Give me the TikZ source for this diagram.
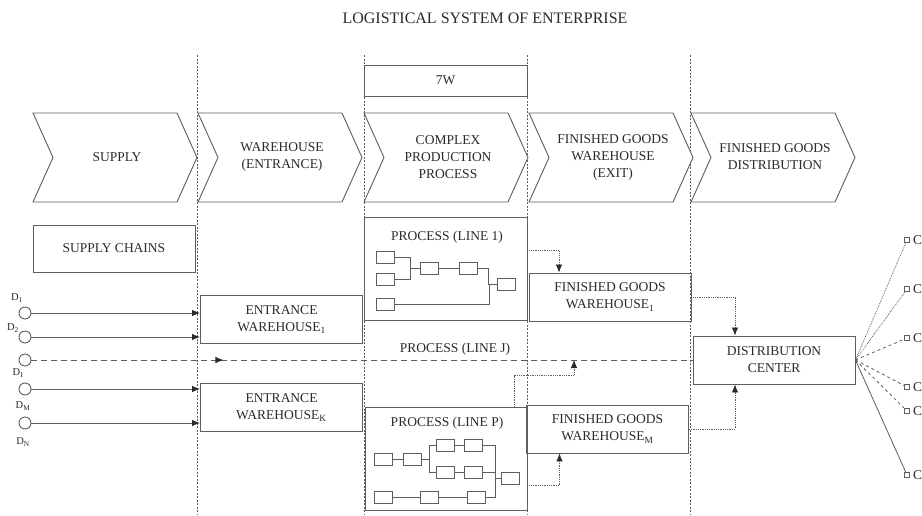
\documentclass[tikz,border=0pt]{standalone}
\usepackage{fontspec}
\setmainfont{Liberation Serif}
\usepackage{tikz}
\usetikzlibrary{arrows.meta,calc,decorations.markings}
\definecolor{linegray}{HTML}{5E5E5E}
\definecolor{inkgray}{HTML}{2A2A2A}

\begin{document}
\begin{tikzpicture}[x=1pt, y=-1pt,
    txt/.style={font=\fontsize{13.5}{17}\selectfont, text=inkgray, align=center},
    box/.style={draw=linegray, line width=0.9pt, inner sep=0pt, txt},
    whbox/.style={box, minimum width=162pt, minimum height=48pt},
    blk/.style={draw=linegray, line width=0.8pt, minimum width=18pt, minimum height=12pt, inner sep=0pt},
    wire/.style={draw=linegray, line width=0.8pt},
    src/.style={circle, draw=linegray, line width=0.9pt, minimum size=12pt, inner sep=0pt},
    tip/.style={-{Latex[length=8pt,width=6.5pt,color=inkgray]}},
    feed/.style={draw=linegray, line width=0.9pt, tip},
    link/.style={draw=linegray, line width=0.8pt, densely dotted, tip},
    sep/.style={draw=linegray, line width=0.7pt, dash pattern=on 2pt off 1.5pt},
    dlab/.style={font=\fontsize{10.5}{12}\selectfont, text=inkgray, inner sep=0pt},
    cnode/.style={draw=linegray, line width=0.7pt, minimum size=5pt, inner sep=0pt}]
    \useasboundingbox (0,0) rectangle (922,515);

    % Title
    \node[font=\fontsize{16}{19}\selectfont, text=inkgray] (title) at (485,18) {LOGISTICAL SYSTEM OF ENTERPRISE};

    % Stage borders
    \foreach \x in {197, 364, 527, 690} {
        \draw[sep] (\x,55) -- (\x,515);
    }

    % Chevrons
    \foreach \name/\x/\txt in {sup/33/SUPPLY, whe/198/{WAREHOUSE\\(ENTRANCE)}, cpp/364/{COMPLEX\\PRODUCTION\\PROCESS}, fgw/529/{FINISHED GOODS\\WAREHOUSE\\(EXIT)}, fgd/691/{FINISHED GOODS\\DISTRIBUTION}} {
        \draw[linegray, line width=0.9pt, fill=white] (\x,113) -- ++(144,0) -- ++(20,44.5) -- ++(-20,44.5) -- ++(-144,0) -- ++(20,-44.5) -- cycle;
        \node[txt] (\name) at (\x+84,157) {\txt};
    }

    \node[box, fill=white, minimum width=163pt, minimum height=31pt] (sevenw) at (445.5,80.5) {7W};
    \node[box, minimum width=162pt, minimum height=47pt] (chains) at (114,248.5) {SUPPLY CHAINS};

    % Warehouses
    \node[whbox] (ew1) at (281.5,319.5) {ENTRANCE\\WAREHOUSE\textsubscript{1}};
    \node[whbox] (ewk) at (281.5,407.5) {ENTRANCE\\WAREHOUSE\textsubscript{K}};
    \node[whbox] (fg1) at (610,297) {FINISHED GOODS\\WAREHOUSE\textsubscript{1}};
    \node[whbox] (fgm) at (607.5,429) {FINISHED GOODS\\WAREHOUSE\textsubscript{M}};
    \node[whbox] (dc) at (774,360) {DISTRIBUTION\\CENTER};

    % Process (line 1)
    \node[box, minimum width=163pt, minimum height=103pt] (line1) at (445.5,268.5) {};
    \node[txt] (line1t) at (447,237) {PROCESS (LINE 1)};
    \foreach \name/\x/\y in {a/385.5/257, b/385.5/279, c/385.5/304, d/429.5/268, e/468/268, f/506/284.5} {
        \node[blk] (p1\name) at (\x,\y) {};
    }
    \draw[wire] (p1a.east) -- ++(15,0) |- (p1d.west);
    \draw[wire] (p1b.east) -- ++(15,0) |- (p1d.west);
    \draw[wire] (p1d) -- (p1e);
    \draw[wire] (p1e.east) -- ++(11,0) |- (p1f.west);
    \draw[wire] (p1c.east) -- ++(94,0) |- (p1f.west);

    % Process (line P)
    \node[box, minimum width=162pt, minimum height=103pt] (lineP) at (446,458.5) {};
    \node[txt] (linePt) at (447,423) {PROCESS (LINE P)};
    \foreach \name/\x/\y in {g/383/459.5, h/412/459.5, i/445.5/445.5, j/473/445.5, k/445.5/472, l/473/472, m/510.5/478.5, n/383/497, o/429/497, p/476/497} {
        \node[blk] (pp\name) at (\x,\y) {};
    }
    \draw[wire] (ppg) -- (pph);
    \draw[wire] (pph.east) -- ++(8,0) |- (ppi.west);
    \draw[wire] (pph.east) -- ++(8,0) |- (ppk.west);
    \draw[wire] (ppi) -- (ppj);
    \draw[wire] (ppk) -- (ppl);
    \draw[wire] (ppj.east) -- ++(13,0) |- (ppm.west);
    \draw[wire] (ppl.east) -- ++(13,0) |- (ppm.west);
    \draw[wire] (ppn) -- (ppo) -- (ppp);
    \draw[wire] (ppp.east) -- ++(10,0) |- (ppm.west);

    % Sources
    \foreach \name/\y/\lx/\ly/\sub in {d1/313/17/298/1, d2/337/13/328/2, di/360/18/373/I, dm/389/23/406/M, dn/423/23/442/N} {
        \node[src] (\name) at (25,\y) {};
        \node[dlab] (\name-l) at (\lx,\ly) {D\textsubscript{\sub}};
    }
    \foreach \s/\t in {d1/ew1, d2/ew1, dm/ewk, dn/ewk} {
        \draw[feed] (\s.east) -- (\s.east -| \t.west);
    }

    % Process (line J)
    \draw[wire, dash pattern=on 6pt off 4pt, postaction={decorate},
        decoration={markings, mark=at position 192pt with {\arrow{Latex[length=8pt,width=6.5pt,color=inkgray]}}}]
        (di.east) -- (di.east -| dc.west);
    \node[txt, fill=white, inner sep=1pt] (linej) at (455,349) {PROCESS (LINE J)};
    \coordinate (joinj) at (574,360);

    % Transfers
    \draw[link] ([yshift=18pt]line1.east) -| ([xshift=-51pt]fg1.north);
    \draw[link] ([yshift=-27pt]lineP.east) -| ([xshift=-48pt]fgm.south);
    \draw[link] ([xshift=68pt]lineP.north) -- ++(0,-31) -| (joinj);
    \draw[link] (fg1.east) -| ([xshift=-39pt]dc.north);
    \draw[link] (fgm.east) -| ([xshift=-39pt]dc.south);

    % Consumers
    \foreach \name/\y/\sty in {c1/240/densely dotted, c2/289/densely dotted, c3/338/dashed, c4/387/dashed, c5/411/dashed, c6/475/solid} {
        \node[cnode] (\name) at (907,\y) {};
        \node[txt, anchor=west, inner sep=0pt] (\name-l) at (913,\y) {C};
        \draw[wire, \sty] (dc.east) -- (\name);
    }

\end{tikzpicture}
\end{document}
